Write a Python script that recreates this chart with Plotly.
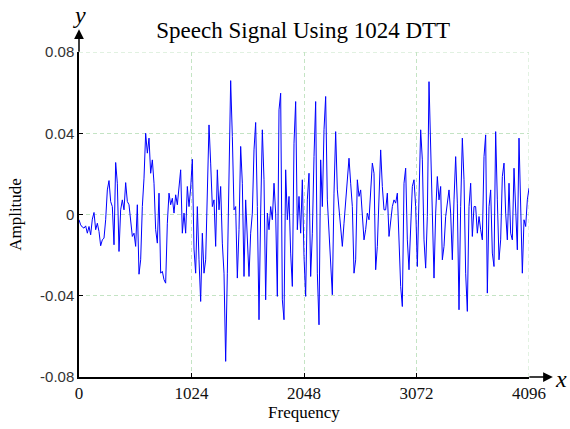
import numpy as np
import plotly.graph_objects as go

# Amplitude values (uniformly spaced samples over 0..4096)
amplitude = [
    -0.0026, -0.0051, -0.0062, -0.0067, -0.0056, -0.0092, -0.0059, -0.0100, -0.0023, 0.0010,
    -0.0075, -0.0043, -0.0084, -0.0154, -0.0125, -0.0116, -0.0026, 0.0121, 0.0167, 0.0064,
    0.0039, -0.0149, 0.0256, 0.0154, -0.0182, 0.0023, 0.0072, 0.0023, 0.0157, 0.0064,
    0.0048, -0.0026, -0.0108, -0.0092, -0.0157, 0.0048, -0.0294, -0.0223, 0.0039, 0.0179,
    0.0400, 0.0302, 0.0376, 0.0203, 0.0269, 0.0154, -0.0075, -0.0141, 0.0105, -0.0289,
    -0.0280, -0.0321, -0.0338, -0.0043, 0.0105, 0.0048, 0.0080, 0.0007, 0.0097, 0.0048,
    0.0138, 0.0220, -0.0092, 0.0007, -0.0092, 0.0138, 0.0039, 0.0130, 0.0272, -0.0170,
    -0.0289, 0.0039, -0.0223, -0.0428, -0.0092, -0.0289, -0.0223, 0.0171, 0.0441, 0.0253,
    0.0039, 0.0072, -0.0157, 0.0220, 0.0023, 0.0138, -0.0141, -0.0289, -0.0723, -0.0289,
    0.0203, 0.0659, 0.0384, 0.0023, 0.0039, -0.0313, -0.0075, 0.0335, 0.0154, -0.0305,
    0.0072, -0.0141, -0.0305, -0.0092, 0.0007, 0.0318, 0.0453, 0.0039, -0.0518, 0.0007,
    0.0417, 0.0171, -0.0420, 0.0007, -0.0075, 0.0039, -0.0026, 0.0154, 0.0007, -0.0403,
    0.0515, 0.0597, -0.0420, -0.0518, 0.0220, -0.0026, 0.0089, -0.0190, -0.0354, 0.0351,
    0.0556, -0.0075, 0.0089, -0.0092, 0.0171, -0.0207, -0.0403, 0.0072, 0.0203, -0.0305,
    -0.0092, 0.0285, 0.0556, -0.0289, -0.0543, 0.0269, 0.0039, 0.0417, 0.0581, 0.0072,
    -0.0075, -0.0239, -0.0395, 0.0105, 0.0408, 0.0121, 0.0023, -0.0092, -0.0157, -0.0043,
    0.0072, 0.0203, 0.0277, 0.0154, 0.0039, -0.0289, -0.0223, 0.0171, 0.0089, 0.0121,
    -0.0010, -0.0125, -0.0075, 0.0007, -0.0026, 0.0121, 0.0253, 0.0203, -0.0272, -0.0157,
    0.0039, 0.0318, 0.0138, 0.0023, 0.0023, 0.0105, -0.0108, -0.0026, 0.0039, 0.0072,
    0.0056, 0.0105, -0.0092, -0.0354, -0.0453, 0.0154, 0.0228, -0.0125, -0.0272, -0.0092,
    0.0138, 0.0171, 0.0039, -0.0256, 0.0121, 0.0417, 0.0269, -0.0125, -0.0264, -0.0010,
    0.0654, 0.0285, -0.0092, -0.0313, 0.0007, 0.0187, 0.0072, 0.0138, -0.0223, -0.0157,
    -0.0010, 0.0056, 0.0121, 0.0007, -0.0223, 0.0072, 0.0285, 0.0056, -0.0469, 0.0039,
    0.0376, 0.0171, -0.0289, -0.0477, 0.0039, 0.0154, -0.0108, 0.0039, 0.0039, -0.0092,
    -0.0010, -0.0075, -0.0125, 0.0285, 0.0392, -0.0387, 0.0039, 0.0121, -0.0190, -0.0256,
    0.0408, 0.0072, -0.0223, -0.0125, 0.0187, 0.0253, 0.0007, -0.0125, 0.0154, -0.0092,
    -0.0125, 0.0228, 0.0056, -0.0174, 0.0376, 0.0007, -0.0289, -0.0026, -0.0059, 0.0072,
    0.0130,
]
x_max = 4096
frequency = np.linspace(0, x_max, len(amplitude))

x_ticks = [0, 1024, 2048, 3072, 4096]
x_tick_labels = ["0", "1024", "2048", "3072", "4096"]
y_ticks = [-0.08, -0.04, 0, 0.04, 0.08]
y_tick_labels = ["-0.08", "-0.04", "0", "0.04", "0.08"]

grid_color = "#c4e4c4"
grid_dash = "4px,3px"
serif = "Liberation Serif, Times New Roman, serif"
sans = "Liberation Sans, Arial, sans-serif"

fig = go.Figure()
fig.add_trace(go.Scatter(x=frequency, y=amplitude, mode="lines",
                         line=dict(color="#0000ff", width=1), showlegend=False))

fig.update_layout(
    width=570, height=429,
    margin=dict(l=79, r=41, t=52, b=48),
    paper_bgcolor="white", plot_bgcolor="white",
    title=dict(text="Speech Signal Using 1024 DTT", x=0.532, xanchor="center",
               y=0.93, yanchor="middle",
               font=dict(family=serif, size=23, color="black")),
    xaxis=dict(range=[0, x_max], tickmode="array", tickvals=x_ticks, ticktext=x_tick_labels,
               showline=True, linecolor="black", linewidth=1.5,
               ticks="inside", ticklen=4, tickcolor="black",
               showgrid=True, gridcolor=grid_color, griddash=grid_dash, gridwidth=1,
               zeroline=False,
               tickfont=dict(family=serif, size=17, color="#111111"),
               title=dict(text="Frequency", font=dict(family=serif, size=17, color="black"),
                          standoff=2)),
    yaxis=dict(range=[-0.08, 0.08], tickmode="array", tickvals=y_ticks, ticktext=y_tick_labels,
               showline=True, linecolor="black", linewidth=1.5,
               ticks="inside", ticklen=4, tickcolor="black",
               showgrid=True, gridcolor=grid_color, griddash=grid_dash, gridwidth=1,
               zeroline=False,
               tickfont=dict(family=sans, size=15, color="#333333"),
               title=dict(text="Amplitude", font=dict(family=serif, size=17, color="black"),
                          standoff=14)),
)

# grid lines at the upper and right edges of the range
fig.add_shape(type="line", xref="paper", yref="y", x0=0, x1=1, y0=0.08, y1=0.08,
              line=dict(color=grid_color, width=1, dash=grid_dash), layer="below")
fig.add_shape(type="line", xref="x", yref="paper", x0=x_max, x1=x_max, y0=0, y1=1,
              line=dict(color=grid_color, width=1, dash=grid_dash), layer="below")

# axis arrows
fig.add_annotation(xref="paper", yref="paper", x=0, y=1.070, ax=0, ay=24,
                   text="", showarrow=True, arrowhead=2, arrowsize=1.3,
                   arrowwidth=1.5, arrowcolor="black")
fig.add_annotation(xref="paper", yref="paper", x=1.053, y=0, ax=-25, ay=0,
                   text="", showarrow=True, arrowhead=2, arrowsize=1.3,
                   arrowwidth=1.5, arrowcolor="black")
fig.add_annotation(xref="paper", yref="paper", x=0, y=1.113, xanchor="center", yanchor="middle",
                   text="<i>y</i>", showarrow=False,
                   font=dict(family=serif, size=24, color="black"))
fig.add_annotation(xref="paper", yref="paper", x=1.071, y=-0.006, xanchor="center", yanchor="middle",
                   text="<i>x</i>", showarrow=False,
                   font=dict(family=serif, size=24, color="black"))

fig.write_html("out.html")
